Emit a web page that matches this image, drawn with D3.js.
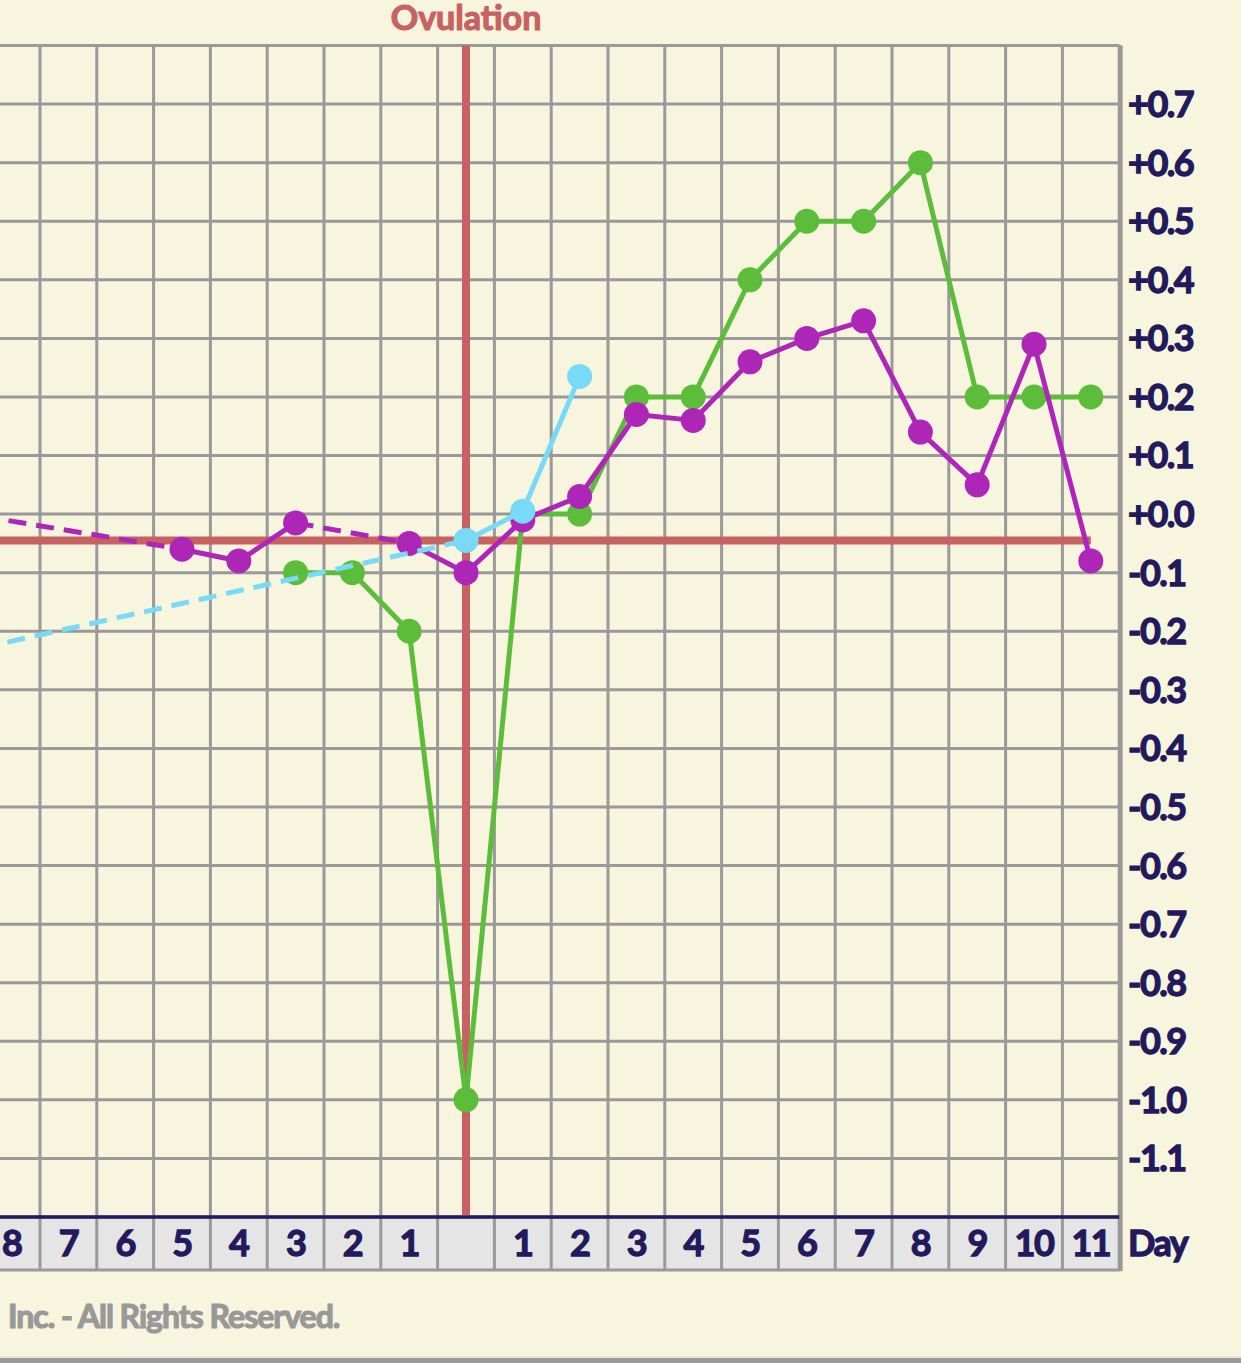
<!DOCTYPE html>
<html><head><meta charset="utf-8">
<script src="https://cdn.jsdelivr.net/npm/d3@7"></script>
<style>
html,body{margin:0;padding:0;background:#f8f5df;}
svg{display:block;}
text{font-family:Lato,"Open Sans",sans-serif;font-weight:bold;}
</style></head>
<body>
<script>
// ---- data ----
const dayPositions = d3.range(-8, 12);
const dayLabels = ["8","7","6","5","4","3","2","1","","1","2","3","4","5","6","7","8","9","10","11"];
const yTicks = [0.7,0.6,0.5,0.4,0.3,0.2,0.1,0.0,-0.1,-0.2,-0.3,-0.4,-0.5,-0.6,-0.7,-0.8,-0.9,-1.0,-1.1];
const yTickLabels = ["+0.7","+0.6","+0.5","+0.4","+0.3","+0.2","+0.1","+0.0","-0.1","-0.2","-0.3","-0.4","-0.5","-0.6","-0.7","-0.8","-0.9","-1.0","-1.1"];

const greenDays   = [-3, -2, -1, 0, 1, 2, 3, 4, 5, 6, 7, 8, 9, 10, 11];
const greenValues = [-0.1, -0.1, -0.2, -1.0, 0.0, 0.0, 0.2, 0.2, 0.4, 0.5, 0.5, 0.6, 0.2, 0.2, 0.2];

const purpleDays   = [-10, -5, -4, -3, -1, 0, 1, 2, 3, 4, 5, 6, 7, 8, 9, 10, 11];
const purpleValues = [0.02, -0.06, -0.08, -0.015, -0.05, -0.1, -0.01, 0.03, 0.17, 0.16, 0.26, 0.30, 0.33, 0.14, 0.05, 0.29, -0.08];

const cyanDays   = [-10, 0, 1, 2];
const cyanValues = [-0.26, -0.045, 0.005, 0.235];

const coverline = -0.045;
const ovulationDay = 0;

// ---- layout ----
const W = 1241, H = 1363;
const colW = 56.8;
const ox = 466;
const x = d3.scaleLinear().domain([-8.5, 11.5]).range([ox - 8.5*colW, ox + 11.5*colW]);
const y = d3.scaleLinear().domain([0.8, -1.2]).range([45.5, 1217]);
const rowTop = 1217, rowBot = 1270;

const C = {bg:"#f8f5df", grid:"#999999", navy:"#221a5c", red:"#c86262",
  green:"#5cbd3a", purple:"#ae26b8", cyan:"#78daf6", cell:"#e6e5e5"};

const svg = d3.select("body").append("svg").attr("width", W).attr("height", H);
svg.append("rect").attr("width", W).attr("height", H).attr("fill", C.bg);

// label row background
svg.append("rect").attr("x", x(-8.5)).attr("y", rowTop).attr("width", x(11.5)-x(-8.5)).attr("height", rowBot-rowTop).attr("fill", C.cell);

// grid
const g = svg.append("g");
const hLines = d3.range(8, -13, -1).map(d => d/10);
g.selectAll(".h").data(hLines).join("line")
  .attr("x1", x(-8.5)).attr("x2", x(11.5))
  .attr("y1", d => y(d)).attr("y2", d => y(d))
  .attr("stroke", C.grid).attr("stroke-width", 3);
const vLines = d3.range(-8.5, 11.6, 1);
g.selectAll(".v").data(vLines).join("line")
  .attr("x1", d => x(d)).attr("x2", d => x(d))
  .attr("y1", y(0.8)-1).attr("y2", rowBot)
  .attr("stroke", C.grid).attr("stroke-width", 3);
g.append("line").attr("x1", x(-8.5)).attr("x2", x(11.5)+1.5).attr("y1", rowBot).attr("y2", rowBot)
  .attr("stroke", C.grid).attr("stroke-width", 3);
g.append("line").attr("x1", x(11.5)+2).attr("x2", x(11.5)+2).attr("y1", y(0.8)).attr("y2", rowBot+1)
  .attr("stroke", C.grid).attr("stroke-width", 3);
g.append("line").attr("x1", x(-8.5)).attr("x2", x(11.5)).attr("y1", rowTop).attr("y2", rowTop)
  .attr("stroke", C.navy).attr("stroke-width", 3.5);

// ovulation vertical line & coverline
svg.append("line").attr("x1", x(ovulationDay)).attr("x2", x(ovulationDay))
  .attr("y1", y(0.8)).attr("y2", rowTop-2).attr("stroke", C.red).attr("stroke-width", 8);
svg.append("line").attr("x1", 0).attr("x2", x(11))
  .attr("y1", y(coverline)).attr("y2", y(coverline)).attr("stroke", C.red).attr("stroke-width", 8);

svg.append("text").attr("x", x(ovulationDay)).attr("y", 30).attr("text-anchor", "middle")
  .attr("font-size", 34).attr("fill", C.red).attr("stroke", C.red).attr("stroke-width", 1.2)
  .text("Ovulation");

// series
function drawSeries(days, vals, color) {
  const pts = days.map((d,i) => ({d, v: vals[i]}));
  const sg = svg.append("g");
  for (let i = 1; i < pts.length; i++) {
    const a = pts[i-1], b = pts[i];
    const dashed = (b.d - a.d) > 1;
    sg.append("line")
      .attr("x1", x(a.d)).attr("y1", y(a.v)).attr("x2", x(b.d)).attr("y2", y(b.v))
      .attr("stroke", color).attr("stroke-width", 5)
      .attr("stroke-dasharray", dashed ? "18,10" : null);
  }
  sg.selectAll("circle").data(pts).join("circle")
    .attr("cx", p => x(p.d)).attr("cy", p => y(p.v)).attr("r", 12.5).attr("fill", color);
}
drawSeries(greenDays, greenValues, C.green);
drawSeries(purpleDays, purpleValues, C.purple);
drawSeries(cyanDays, cyanValues, C.cyan);

// y tick labels
svg.selectAll(".yl").data(yTicks).join("text")
  .attr("x", 1128).attr("y", d => y(d)).attr("dy", "0.36em")
  .attr("font-size", 36).attr("fill", C.navy).attr("stroke", C.navy).attr("stroke-width", 1.3)
  .attr("letter-spacing", -1.5)
  .text((d,i) => yTickLabels[i]);

// day labels
svg.selectAll(".dl").data(dayPositions).join("text")
  .attr("x", d => x(d)).attr("y", 1256).attr("text-anchor", "middle")
  .attr("font-size", 36).attr("fill", C.navy).attr("stroke", C.navy).attr("stroke-width", 1.3)
  .attr("letter-spacing", -1.5)
  .text((d,i) => dayLabels[i]);
svg.append("text").attr("x", 1128).attr("y", 1256).attr("font-size", 36)
  .attr("fill", C.navy).attr("stroke", C.navy).attr("stroke-width", 1.3)
  .attr("letter-spacing", -1.5).text("Day");

// footer
svg.append("text").attr("x", 8).attr("y", 1328).attr("font-size", 32)
  .attr("fill", "#999999").attr("stroke", "#999999").attr("stroke-width", 1.2)
  .attr("letter-spacing", -1).text("Inc. - All Rights Reserved.");
svg.append("rect").attr("x", 0).attr("y", 1356).attr("width", W).attr("height", 2).attr("fill", "#e8e6d8");
svg.append("rect").attr("x", 0).attr("y", 1358).attr("width", W).attr("height", 5).attr("fill", "#9a9a9a");
</script>
</body></html>
